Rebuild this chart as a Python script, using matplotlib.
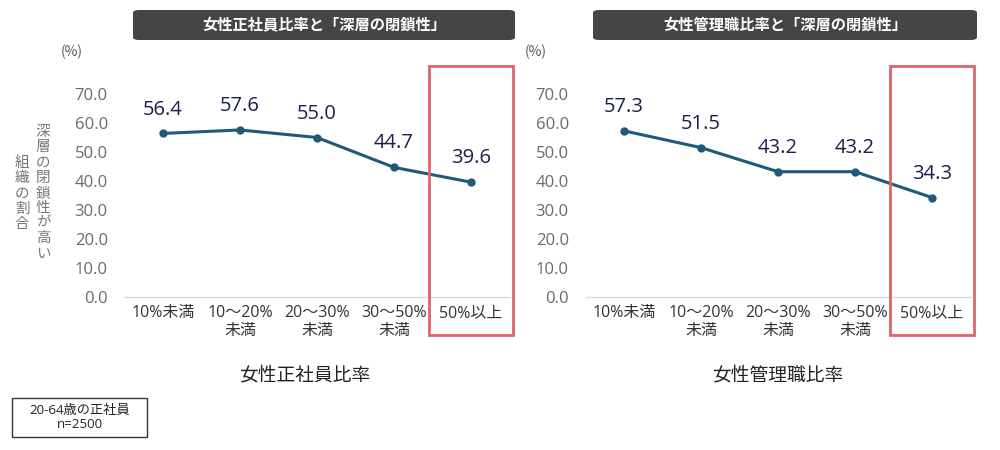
import matplotlib.pyplot as plt
from matplotlib.patches import Rectangle, FancyBboxPatch

plt.rcParams['font.family'] = ['Noto Sans CJK JP', 'DejaVu Sans']
NUMFONT = ['Open Sans', 'Noto Sans CJK JP', 'DejaVu Sans']

# データ
categories = ['10%未満', '10～20%\n未満', '20～30%\n未満', '30～50%\n未満', '50%以上']
seishain_vals = [56.4, 57.6, 55.0, 44.7, 39.6]
kanrishoku_vals = [57.3, 51.5, 43.2, 43.2, 34.3]
titles = ['女性正社員比率と「深層の閉鎖性」', '女性管理職比率と「深層の閉鎖性」']
xlabels = ['女性正社員比率', '女性管理職比率']
yticks = [0, 10, 20, 30, 40, 50, 60, 70]

LINE = '#1f5a78'
LABEL = '#1c1f4a'
TICK = '#6a6a6a'
RED = '#e0636b'

W, H = 1000, 450
fig = plt.figure(figsize=(10, 4.5), dpi=100)


def fx(px):
    return px / W


def fy(py):
    return 1 - py / H


# 軸位置: y=0 が 297px, y=70 が 94px
panels = [
    (124.5, seishain_vals, 133, 515, 305),
    (585.5, kanrishoku_vals, 593, 977, 778),
]

for i, (left_px, vals, tl, tr, xl_c) in enumerate(panels):
    ax = fig.add_axes([fx(left_px), fy(297), fx(385), (297 - 94) / H])
    x = list(range(len(categories)))
    ax.plot(x, vals, color=LINE, lw=2.2, marker='o', ms=5, zorder=3)
    for xi, v in zip(x, vals):
        ax.annotate(f'{v:.1f}', (xi, v), xytext=(0, 10), textcoords='offset points',
                    ha='center', va='bottom', fontsize=14.5, color=LABEL,
                    family=NUMFONT)
    ax.set_xlim(-0.5, 4.5)
    ax.set_ylim(0, 70)
    ax.set_yticks(yticks)
    ax.set_yticklabels([f'{t:.1f}' for t in yticks], fontsize=12, color=TICK,
                       family=NUMFONT)
    ax.set_xticks(x)
    ax.set_xticklabels(categories, fontsize=11.5, color='#333333', linespacing=1.15,
                       family=NUMFONT)
    ax.tick_params(axis='both', length=0)
    ax.tick_params(axis='y', pad=12)
    ax.tick_params(axis='x', pad=6)
    for s in ['top', 'right', 'left']:
        ax.spines[s].set_visible(False)
    ax.spines['bottom'].set_color('#d9d9d9')
    ax.spines['bottom'].set_linewidth(1)
    ax.patch.set_alpha(0)

    # 赤枠 (50%以上)
    rect = Rectangle((3.45, -13.1), 1.1, 92.8, fill=False, edgecolor=RED,
                     lw=2, clip_on=False, zorder=4)
    ax.add_patch(rect)

    # タイトルボックス
    tb = FancyBboxPatch((fx(tl), fy(40)), fx(tr - tl), (40 - 10) / H,
                        boxstyle='round,pad=0,rounding_size=0.006',
                        transform=fig.transFigure, facecolor='#454545',
                        edgecolor='none', figure=fig)
    fig.patches.append(tb)
    fig.text(fx((tl + tr) / 2), fy(25), titles[i], ha='center', va='center',
             color='white', fontsize=11, fontweight='bold')

    fig.text(fx(xl_c), fy(375), xlabels[i], ha='center', va='center',
             fontsize=13.5, color='#222222')

fig.text(fx(72), fy(52), '(%)', ha='center', va='center', fontsize=10, color='#555555')
fig.text(fx(536), fy(52), '(%)', ha='center', va='center', fontsize=10, color='#555555')

# 縦書きのy軸ラベル
col1 = '深層の閉鎖性が高い'
col2 = '組織の割合'
for k, ch in enumerate(col1):
    fig.text(fx(43), fy(132 + k * 15.2), ch, ha='center', va='center',
             fontsize=10.5, color='#777777')
for k, ch in enumerate(col2):
    fig.text(fx(22), fy(163 + k * 15.2), ch, ha='center', va='center',
             fontsize=10.5, color='#777777')

# 注記ボックス
fig.patches.append(Rectangle((fx(12), fy(437)), fx(135), (437 - 398) / H,
                             transform=fig.transFigure, fill=False,
                             edgecolor='#333333', lw=1, figure=fig))
fig.text(fx(79.5), fy(417.5), '20-64歳の正社員\nn=2500', ha='center', va='center',
         fontsize=9.5, color='#222222', linespacing=1.05, family=NUMFONT)

fig.savefig('out.png', dpi=100)
